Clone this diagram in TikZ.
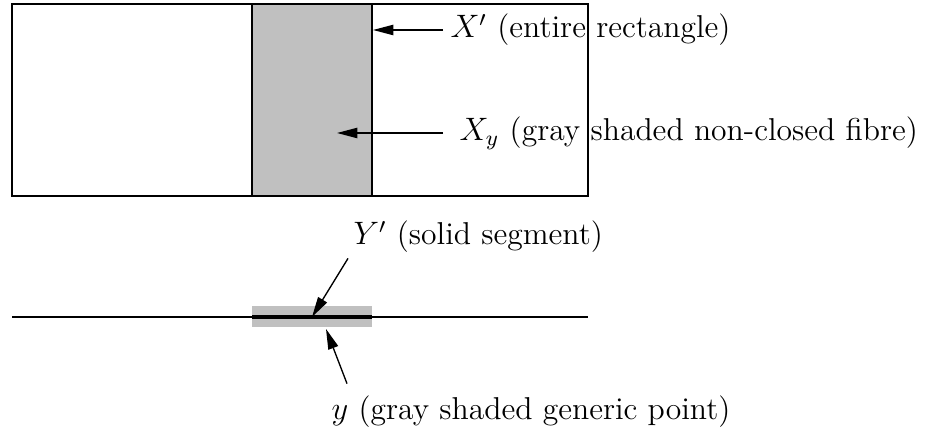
\documentclass[tikz,border=0pt]{standalone}
\usepackage{amsmath, amssymb}
\usepackage{tikz}
\usepackage{xcolor}
\usetikzlibrary{
  positioning,
  arrows.meta,
  calc,
}
\definecolor{cShade}{HTML}{C0C0C0}
\definecolor{cLine} {HTML}{000000}

\begin{document}
\begin{tikzpicture}[
  x=0.013cm, y=-0.013cm,
  >={Triangle[length=7.5pt, width=3.8pt]},
  every node/.style={align=center, text=cLine},
  %
  spacebox/.style={draw=cLine, line width=0.55pt},
  fibrebox/.style={draw=cLine, fill=cShade, line width=0.55pt},
  pointband/.style={fill=cShade, draw=none},
  baseline/.style={draw=cLine, line width=0.5pt},
  segline/.style={draw=cLine, line width=1.8pt},
  lbl/.style={font=\fontsize{11.7}{14}\selectfont, inner sep=0pt},
  arr/.style={->, line width=0.5pt, draw=cLine},
]
\useasboundingbox (0,0) rectangle (930,440);

% ────────────── TOP: total space X' ──────────────
\draw[spacebox] (12,4) rectangle (588,196);
\draw[fibrebox] (252,4) rectangle (372,196);

\coordinate (xtip) at (373,30);
\coordinate (fibtip) at (337,133);

\node[lbl, anchor=west] (xlab) at (450,30) {$X'$ (entire rectangle)};
\node[lbl, anchor=west] (fiblab) at (459,133) {$X_y$ (gray shaded non-closed fibre)};

% ────────────── BOTTOM: base Y' ──────────────
\fill[pointband] (252,306) rectangle (372,327);
\draw[baseline] (12,317) -- (588,317);
\draw[segline] (252,317) -- (372,317);

\coordinate (segtip) at (312,317);
\coordinate (pttip) at (326,329);

\node[lbl, anchor=west] (seglab) at (353,237) {$Y'$ (solid segment)};
\node[lbl, anchor=west] (ptlab) at (331,412) {$y$ (gray shaded generic point)};

% ────────────── ARROWS ──────────────
\draw[arr] ($(xlab.west)+(-7,0)$) -- (xtip);
\draw[arr] ($(fiblab.west)+(-16,0)$) -- (fibtip);
\draw[arr] ($(seglab.south west)+(-5,5)$) -- (segtip);
\draw[arr] ($(ptlab.north west)+(16,-12)$) -- (pttip);

\end{tikzpicture}
\end{document}
